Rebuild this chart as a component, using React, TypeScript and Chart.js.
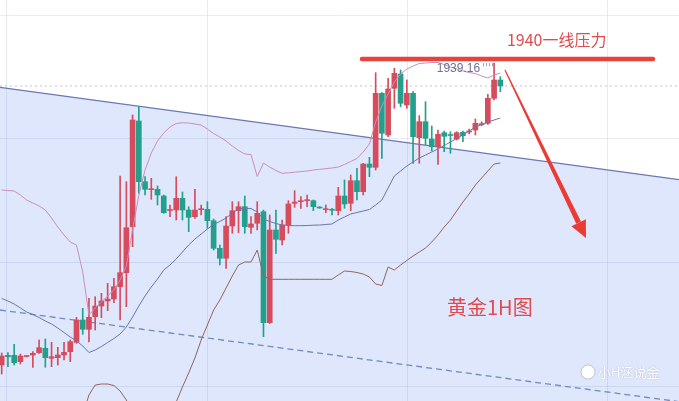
import React, { useEffect, useRef } from 'react';
import { Chart, registerables } from 'chart.js';

Chart.register(...registerables);

// ---- Candles (gold 1H), index 0..80 ----
const OPEN = [
  1878.80, 1880.74, 1880.74, 1879.46, 1880.50, 1880.80, 1881.26, 1882.14, 1880.14, 1880.26,
  1880.80, 1881.46, 1883.34, 1887.80, 1885.94, 1888.46, 1890.60, 1891.60, 1892.00, 1894.46,
  1897.26, 1906.46, 1927.60, 1915.46, 1913.86, 1913.94, 1912.60, 1909.70, 1909.80, 1912.14,
  1909.80, 1908.46, 1909.86, 1909.94, 1907.66, 1902.14, 1900.14, 1906.60, 1909.66, 1910.46,
  1906.34, 1907.14, 1909.46, 1887.26, 1905.80, 1903.80, 1906.80, 1911.14, 1911.46, 1911.66,
  1911.66, 1910.40, 1909.86, 1909.86, 1909.66, 1912.60, 1911.14, 1915.66, 1913.46, 1919.00,
  1918.34, 1933.14, 1924.80, 1934.14, 1937.00, 1930.80, 1933.14, 1924.26, 1927.46, 1924.00,
  1922.46, 1925.26, 1924.86, 1924.00, 1925.34, 1925.40, 1925.80, 1926.86, 1927.14, 1932.14,
  1935.80,
];
const HIGH = [
  1881.20, 1881.26, 1882.94, 1881.00, 1880.70, 1881.46, 1883.80, 1884.00, 1883.34, 1882.34,
  1883.34, 1883.80, 1888.34, 1890.14, 1892.14, 1892.46, 1893.14, 1895.14, 1896.14, 1916.60,
  1915.46, 1928.80, 1930.46, 1916.46, 1916.14, 1914.60, 1912.80, 1910.80, 1916.46, 1913.40,
  1910.46, 1913.94, 1910.80, 1911.46, 1908.00, 1902.80, 1908.46, 1911.46, 1911.46, 1912.60,
  1908.46, 1911.46, 1909.80, 1908.80, 1909.80, 1907.80, 1911.66, 1913.66, 1912.46, 1912.80,
  1911.80, 1910.46, 1910.80, 1910.14, 1914.34, 1915.80, 1916.80, 1918.14, 1919.14, 1920.34,
  1937.26, 1933.30, 1936.14, 1938.14, 1937.80, 1935.80, 1933.46, 1928.66, 1931.46, 1926.60,
  1925.80, 1925.60, 1925.46, 1925.46, 1925.60, 1926.00, 1928.00, 1927.46, 1932.94, 1939.16,
  1936.46,
];
const LOW = [
  1877.00, 1878.46, 1878.80, 1879.00, 1880.40, 1878.34, 1881.10, 1878.34, 1878.46, 1878.80,
  1879.80, 1879.46, 1883.14, 1884.94, 1883.40, 1885.80, 1888.26, 1889.66, 1891.26, 1887.80,
  1890.46, 1902.46, 1913.14, 1912.80, 1911.94, 1910.80, 1909.14, 1908.46, 1907.80, 1907.80,
  1905.46, 1908.14, 1908.80, 1906.14, 1901.80, 1898.80, 1898.14, 1905.14, 1905.26, 1905.14,
  1905.14, 1905.80, 1884.46, 1887.10, 1901.14, 1902.80, 1905.14, 1910.34, 1910.14, 1910.46,
  1909.66, 1910.14, 1909.26, 1908.80, 1908.80, 1910.14, 1909.66, 1911.80, 1912.80, 1916.46,
  1917.80, 1920.14, 1924.46, 1930.14, 1930.46, 1930.14, 1919.14, 1919.14, 1922.80, 1921.60,
  1918.90, 1921.46, 1921.14, 1923.80, 1923.46, 1925.00, 1924.80, 1926.66, 1926.94, 1931.80,
  1933.46,
];
const CLOSE = [
  1880.60, 1880.46, 1879.26, 1880.60, 1880.60, 1881.14, 1882.26, 1880.26, 1880.46, 1880.80,
  1881.34, 1883.46, 1887.80, 1885.94, 1888.34, 1890.60, 1891.60, 1892.00, 1894.46, 1897.26,
  1906.26, 1927.80, 1915.46, 1913.94, 1914.00, 1912.80, 1909.26, 1909.90, 1912.14, 1909.80,
  1908.34, 1909.80, 1910.00, 1907.66, 1902.14, 1900.14, 1906.60, 1909.66, 1910.46, 1906.46,
  1907.00, 1909.14, 1887.26, 1905.80, 1903.94, 1906.80, 1911.00, 1911.40, 1911.66, 1911.86,
  1910.46, 1910.20, 1910.00, 1909.74, 1912.60, 1911.00, 1915.66, 1913.46, 1919.00, 1918.34,
  1933.14, 1925.14, 1934.00, 1937.14, 1931.14, 1933.14, 1924.46, 1927.46, 1924.14, 1922.46,
  1924.94, 1924.54, 1924.70, 1925.26, 1924.66, 1925.54, 1927.14, 1927.00, 1932.14, 1935.80,
  1934.60,
];

// ---- Bollinger bands ----
const BB_UPPER = [
  1913.80, 1913.70, 1913.60, 1912.80, 1911.80, 1911.20, 1910.60, 1909.80, 1908.20, 1906.40,
  1904.80, 1903.40, 1902.80, 1897.40, 1888.80, 1890.20, 1891.40, 1892.60, 1893.80, 1895.80,
  1898.60, 1905.80, 1912.80, 1917.80, 1921.20, 1923.60, 1925.20, 1926.40, 1927.10, 1927.26,
  1927.20, 1927.00, 1926.80, 1926.00, 1925.10, 1924.40, 1923.60, 1922.60, 1921.70, 1921.00,
  1920.90, 1916.50, 1919.20, 1918.40, 1917.70, 1917.14, 1917.24, 1917.36, 1917.48, 1917.60,
  1917.80, 1917.94, 1918.06, 1918.20, 1918.40, 1918.90, 1919.50, 1920.10, 1921.40, 1923.00,
  1927.40, 1930.60, 1933.00, 1935.40, 1937.00, 1938.00, 1938.60, 1939.10, 1939.20, 1939.30,
  1939.30, 1938.90, 1938.40, 1938.00, 1937.60, 1937.30, 1937.10, 1936.60, 1936.20, 1936.80,
  1937.20,
];
const BB_MIDDLE = [
  1892.10, 1891.60, 1891.00, 1890.20, 1889.40, 1888.90, 1888.30, 1887.60, 1887.00, 1886.20,
  1885.30, 1884.40, 1883.60, 1882.60, 1881.30, 1881.80, 1882.50, 1883.30, 1884.10, 1885.00,
  1886.40, 1888.40, 1890.60, 1892.60, 1894.40, 1896.00, 1897.80, 1898.80, 1900.00, 1901.40,
  1902.80, 1904.00, 1905.00, 1906.00, 1906.90, 1907.50, 1908.20, 1909.20, 1910.00, 1910.14,
  1910.10, 1909.40, 1908.00, 1907.50, 1907.10, 1906.80, 1906.70, 1906.66, 1906.66, 1906.70,
  1906.76, 1906.80, 1906.90, 1907.00, 1907.80, 1908.40, 1909.00, 1909.30, 1909.60, 1909.90,
  1910.80, 1911.80, 1914.20, 1916.60, 1917.60, 1918.60, 1919.40, 1920.20, 1920.80, 1921.40,
  1922.00, 1922.70, 1923.40, 1924.10, 1924.80, 1925.60, 1926.40, 1926.90, 1927.40, 1927.80,
  1928.20,
];
const BB_LOWER = [
  null, null, null, null, null, null, null, null, null, null,
  null, null, null, 1868.80, 1872.80, 1874.80, 1875.00, 1875.00, 1874.70, 1873.60,
  1871.80, 1868.80, null, null, null, null, null, 1867.80, 1871.40, 1874.40,
  1877.20, 1880.20, 1883.80, 1886.80, 1889.80, 1891.80, 1894.20, 1896.60, 1898.80, 1899.40,
  1899.40, 1901.80, 1896.60, 1895.94, 1895.94, 1895.94, 1895.94, 1895.94, 1895.94, 1895.94,
  1895.94, 1895.94, 1895.94, 1895.94, 1896.80, 1897.60, 1897.50, 1897.30, 1897.00, 1896.40,
  1895.00, 1894.70, 1898.40, 1897.80, 1898.80, 1899.70, 1900.60, 1901.40, 1902.20, 1903.40,
  1904.80, 1906.40, 1907.80, 1909.60, 1911.40, 1913.00, 1914.80, 1916.20, 1917.60, 1919.00,
  1919.20,
];

// ---- Axes / drawings ----
const X_RANGE = [-0.273, 108.67];
const Y_RANGE = [1871.6, 1951.8];
const GRID_PRICES = [1948.8, 1924.0, 1899.2, 1874.4];
const GRID_INDEX = [0.85, 32.94, 65.03, 97.12];
const CHANNEL_TOP = [1934.34, 1915.88];
const CHANNEL_BOTTOM = [1889.8, 1871.46];
const LAST_PRICE = 1934.6;
const RESISTANCE = 1940;
const RESISTANCE_SPAN = [57.81, 104.5];
const RESISTANCE_LABEL = '1940一线压力';
const RESISTANCE_LABEL_AT = [89.05, 1943.9];
const TITLE_LABEL = '黄金1H图';
const TITLE_AT = [71.45, 1890.4];
const HIGH_INDEX = 79;
const HIGH_LABEL = '1939.16';
const ARROW_FROM = [80.75, 1937.8];
const ARROW_TO = [93.75, 1904.2];
const WATERMARK = '小H涵说金';
const WATERMARK_AT = [94.07, 1877.4];

const UP = '#d64c5d';
const DOWN = '#23a08b';

const annotationPlugin = {
  id: 'annotationPlugin',
  afterDatasetsDraw(chart: any) {
    const { ctx } = chart;
    const xs = chart.scales.x;
    const ys = chart.scales.y;
    const px = (v: number) => xs.getPixelForValue(v);
    const py = (v: number) => ys.getPixelForValue(v);
    ctx.save();

    // high label
    const hx = px(HIGH_INDEX);
    const hy = py(HIGH[HIGH_INDEX]);
    ctx.font = '12px "Liberation Sans", Arial, sans-serif';
    ctx.fillStyle = '#6d7290';
    ctx.textAlign = 'right';
    ctx.textBaseline = 'middle';
    ctx.fillText(HIGH_LABEL, hx - 14, hy + 5);
    ctx.strokeStyle = '#9aa0b8';
    ctx.lineWidth = 1;
    for (let k = 0; k < 4; k++) {
      const xx = Math.round(hx - 11 + k * 3) + 0.5;
      ctx.beginPath();
      ctx.moveTo(xx, hy);
      ctx.lineTo(xx, hy + 3);
      ctx.stroke();
    }

    // arrow
    const ax0 = px(ARROW_FROM[0]), ay0 = py(ARROW_FROM[1]);
    const ax1 = px(ARROW_TO[0]), ay1 = py(ARROW_TO[1]);
    const dx = ax1 - ax0, dy = ay1 - ay0;
    const len = Math.hypot(dx, dy);
    const ux = dx / len, uy = dy / len;
    const nx = uy, ny = -ux;
    const headLen = 17, headW = 8;
    const bx = ax1 - ux * headLen, by = ay1 - uy * headLen;
    ctx.fillStyle = '#ea3b35';
    ctx.beginPath();
    ctx.moveTo(ax0 + nx * 0.6, ay0 + ny * 0.6);
    ctx.lineTo(bx + nx * 2.6, by + ny * 2.6);
    ctx.lineTo(bx - nx * 2.6, by - ny * 2.6);
    ctx.lineTo(ax0 - nx * 0.6, ay0 - ny * 0.6);
    ctx.closePath();
    ctx.fill();
    ctx.beginPath();
    ctx.moveTo(ax1, ay1);
    ctx.lineTo(bx + nx * headW, by + ny * headW);
    ctx.lineTo(bx - nx * headW, by - ny * headW);
    ctx.closePath();
    ctx.fill();

    // labels
    ctx.fillStyle = '#e04b4e';
    ctx.textAlign = 'center';
    ctx.font = '16px "Noto Sans CJK SC", sans-serif';
    ctx.fillText(RESISTANCE_LABEL, px(RESISTANCE_LABEL_AT[0]), py(RESISTANCE_LABEL_AT[1]));
    ctx.textAlign = 'left';
    ctx.font = '20px "Noto Sans CJK SC", sans-serif';
    ctx.fillText(TITLE_LABEL, px(TITLE_AT[0]), py(TITLE_AT[1]));

    // watermark
    const wx = px(WATERMARK_AT[0]), wy = py(WATERMARK_AT[1]);
    ctx.beginPath();
    ctx.arc(wx, wy, 7, 0, Math.PI * 2);
    ctx.fillStyle = 'rgba(255,255,255,0.95)';
    ctx.fill();
    ctx.strokeStyle = 'rgba(140,140,150,0.45)';
    ctx.stroke();
    ctx.font = '13px "Noto Sans CJK SC", sans-serif';
    ctx.shadowColor = 'rgba(0,0,0,0.25)';
    ctx.shadowBlur = 1.5;
    ctx.fillStyle = 'rgba(255,255,255,0.95)';
    ctx.fillText(WATERMARK, wx + 10, wy);
    ctx.restore();
  },
};

export default function App() {
  const ref = useRef<HTMLCanvasElement>(null);

  useEffect(() => {
    document.body.style.margin = '0';
    const canvas = ref.current;
    if (!canvas) return;
    const colors = OPEN.map((o, i) => (CLOSE[i] >= o ? UP : DOWN));
    const band = (arr: (number | null)[]) => arr.map((v, i) => ({ x: i, y: v }));

    const chart = new Chart(canvas, {
      type: 'bar',
      data: {
        datasets: [
          {
            type: 'line',
            data: [
              { x: X_RANGE[0], y: CHANNEL_TOP[0] },
              { x: X_RANGE[1], y: CHANNEL_TOP[1] },
            ],
            borderColor: '#6c78b0',
            borderWidth: 1.2,
            backgroundColor: 'rgba(60,110,235,0.17)',
            fill: 'start',
            pointRadius: 0,
            order: 20,
          } as any,
          {
            type: 'line',
            data: [
              { x: X_RANGE[0], y: CHANNEL_BOTTOM[0] },
              { x: X_RANGE[1], y: CHANNEL_BOTTOM[1] },
            ],
            borderColor: '#7488c2',
            borderWidth: 1.3,
            borderDash: [6, 4],
            fill: false,
            pointRadius: 0,
            order: 19,
          } as any,
          {
            type: 'line',
            data: [
              { x: X_RANGE[0], y: LAST_PRICE },
              { x: X_RANGE[1], y: LAST_PRICE },
            ],
            borderColor: '#bcc3d2',
            borderWidth: 1,
            borderDash: [2, 3],
            fill: false,
            pointRadius: 0,
            order: 18,
          } as any,
          {
            type: 'bar',
            data: LOW.map((l, i) => ({ x: i, y: [l, HIGH[i]] })),
            backgroundColor: colors,
            barThickness: 1,
            grouped: false,
            order: 12,
          } as any,
          {
            type: 'bar',
            data: OPEN.map((o, i) => ({ x: i, y: [o, CLOSE[i]] })),
            backgroundColor: colors,
            barThickness: 5,
            minBarLength: 1,
            grouped: false,
            order: 11,
          } as any,
          {
            type: 'line',
            data: band(BB_UPPER),
            borderColor: '#cc8cbd',
            borderWidth: 1,
            pointRadius: 0,
            fill: false,
            spanGaps: false,
            order: 5,
          } as any,
          {
            type: 'line',
            data: band(BB_MIDDLE),
            borderColor: '#6a74b2',
            borderWidth: 1,
            pointRadius: 0,
            fill: false,
            spanGaps: false,
            order: 5,
          } as any,
          {
            type: 'line',
            data: band(BB_LOWER),
            borderColor: '#94625f',
            borderWidth: 1,
            pointRadius: 0,
            fill: false,
            spanGaps: false,
            order: 5,
          } as any,
          {
            type: 'line',
            data: [
              { x: RESISTANCE_SPAN[0], y: RESISTANCE },
              { x: RESISTANCE_SPAN[1], y: RESISTANCE },
            ],
            borderColor: '#e8433b',
            borderWidth: 4.5,
            borderCapStyle: 'round',
            pointRadius: 0,
            fill: false,
            order: 1,
          } as any,
        ],
      },
      options: {
        responsive: false,
        animation: false,
        devicePixelRatio: 1,
        layout: { padding: 0 },
        plugins: {
          legend: { display: false },
          tooltip: { enabled: false },
        },
        scales: {
          x: {
            type: 'linear',
            min: X_RANGE[0],
            max: X_RANGE[1],
            offset: false,
            afterBuildTicks: (s: any) => {
              s.ticks = GRID_INDEX.map((v) => ({ value: v }));
            },
            ticks: { display: false },
            grid: { color: 'rgba(205,210,225,0.45)', drawTicks: false, offset: false },
            border: { display: false },
          },
          y: {
            type: 'linear',
            min: Y_RANGE[0],
            max: Y_RANGE[1],
            afterBuildTicks: (s: any) => {
              s.ticks = GRID_PRICES.map((v) => ({ value: v }));
            },
            ticks: { display: false },
            grid: { color: 'rgba(205,210,225,0.45)', drawTicks: false },
            border: { display: false },
          },
        },
      } as any,
      plugins: [annotationPlugin],
    });
    return () => chart.destroy();
  }, []);

  return (
    <div style={{ width: 679, height: 401, background: '#ffffff' }}>
      <canvas ref={ref} width={679} height={401} style={{ display: 'block', width: 679, height: 401 }} />
    </div>
  );
}
